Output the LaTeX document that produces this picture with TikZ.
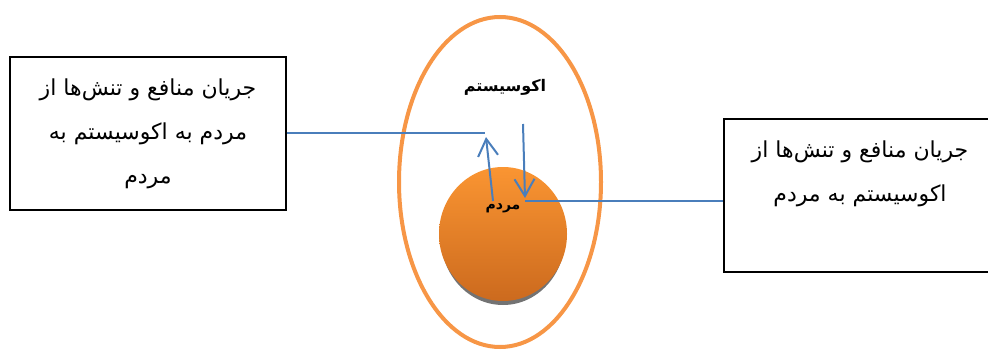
\documentclass[tikz,border=0pt]{standalone}
\usepackage{fontspec}
\usepackage{tikz}
\usetikzlibrary{positioning,arrows.meta,calc,shapes.geometric}
\usepackage{xcolor}
\TeXXeTstate=1
\newfontfamily\arabicfont[Script=Arabic]{DejaVu Sans}
\definecolor{ecoorange}{HTML}{F79646}
\definecolor{ppltop}{HTML}{FA9532}
\definecolor{pplbot}{HTML}{CC6A1E}
\definecolor{flowblue}{HTML}{4A7EBB}

\begin{document}
\begin{tikzpicture}[x=1pt,y=-1pt,>={Straight Barb[length=17pt,width=20pt]},
  flowbox/.style={draw,line width=1.3pt,minimum width=276pt,minimum height=153pt},
  boxtext/.style={font=\arabicfont\fontsize{22}{44}\selectfont,align=center},
  flow/.style={draw=flowblue,line width=2pt}]
\useasboundingbox (0,0) rectangle (988,351);
% ecosystem and people
\node (eco) [ellipse,draw=ecoorange,line width=4pt,minimum width=202pt,minimum height=330pt] at (500,182) {};
\node (shadow) [ellipse,fill=black!55,minimum width=124pt,minimum height=134pt,inner sep=0pt] at (503,238) {};
\node (ppl) [ellipse,top color=ppltop,bottom color=pplbot,minimum width=128pt,minimum height=134pt,inner sep=0pt] at (503,234) {};
\node (ecolabel) [font=\arabicfont\bfseries\fontsize{16}{18}\selectfont] at (505,87) {\beginR اکوسیستم\endR};
\node (ppllabel) [font=\arabicfont\bfseries\fontsize{14}{16}\selectfont] at (503,208) {\beginR مردم\endR};
% boxes
\node (lbox) [flowbox,boxtext] at (148,133.5) {\beginR جریان منافع و تنش‌ها از\endR\\\beginR مردم به اکوسیستم به\endR\\\beginR مردم\endR};
\node (rbox) [flowbox] at (862,195.5) {};
\node (rtext) [boxtext,anchor=north] at ($(rbox.north)+(-2,19)$) {\beginR جریان منافع و تنش‌ها از\endR\\\beginR اکوسیستم به مردم\endR};
% flows
\coordinate (lend) at (485,133);
\coordinate (upS) at (493,201);
\coordinate (upT) at (486,137);
\coordinate (dnS) at (523,124);
\coordinate (dnT) at (525,198);
\coordinate (rstart) at (525,201);
\draw[flow] (lbox.east |- lend) -- (lend);
\draw[flow,->] (upS) -- (upT);
\draw[flow,->] (dnS) -- (dnT);
\draw[flow] (rstart) -- (rstart -| rbox.west);
\end{tikzpicture}
\end{document}
